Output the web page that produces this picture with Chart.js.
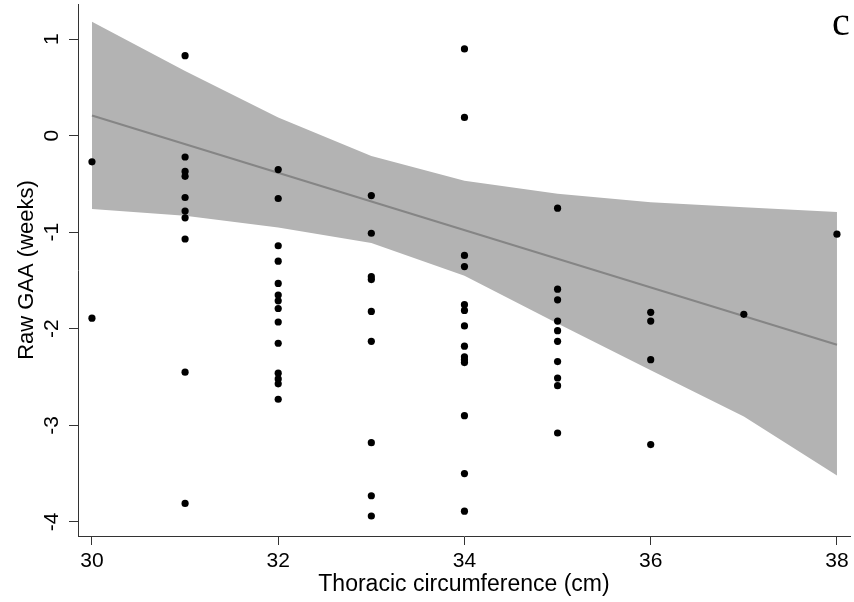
<!DOCTYPE html>
<html>
<head>
<meta charset="utf-8">
<script src="https://cdn.jsdelivr.net/npm/chart.js@4.4.1/dist/chart.umd.min.js"></script>
<style>
  html, body { margin: 0; padding: 0; background: #fff; }
  canvas { display: block; }
</style>
</head>
<body>
<canvas id="gaa-chart" width="854" height="602"></canvas>
<script>
// thoracic circumference (cm) and raw gestational age estimate error (weeks), one entry per foetus
const circumference = [
    30, 30,
    31, 31, 31, 31, 31, 31, 31, 31, 31, 31,
    32, 32, 32, 32, 32, 32, 32, 32, 32, 32, 32, 32, 32, 32,
    33, 33, 33, 33, 33, 33, 33, 33, 33,
    34, 34, 34, 34, 34, 34, 34, 34, 34, 34, 34, 34, 34, 34,
    35, 35, 35, 35, 35, 35, 35, 35, 35, 35,
    36, 36, 36, 36,
    37,
    38
];
const rawGaa = [
    -0.27, -1.89,
    0.83, -0.22, -0.37, -0.42, -0.64, -0.78, -0.85, -1.07, -2.45, -3.81,
    -0.35, -0.65, -1.14, -1.30, -1.53, -1.65, -1.71, -1.79, -1.93, -2.15, -2.46, -2.52, -2.57, -2.73,
    -0.62, -1.01, -1.46, -1.49, -1.82, -2.13, -3.18, -3.73, -3.94,
    0.90, 0.19, -1.24, -1.355, -1.75, -1.81, -1.97, -2.18, -2.29, -2.32, -2.35, -2.90, -3.50, -3.89,
    -0.75, -1.59, -1.70, -1.92, -2.02, -2.13, -2.34, -2.51, -2.59, -3.08,
    -1.83, -1.92, -2.32, -3.20,
    -1.85,
    -1.02
];

// fitted regression line and its confidence band
const fitX = [30, 38];
const fitY = [0.21, -2.165];
const bandX = [30, 31, 32, 33, 34, 35, 36, 37, 38];
const bandUpper = [1.18, 0.67, 0.19, -0.21, -0.465, -0.60, -0.69, -0.74, -0.79];
const bandLower = [-0.76, -0.83, -0.95, -1.11, -1.45, -1.945, -2.43, -2.91, -3.52];

const xTicks = [30, 32, 34, 36, 38];
const yTicks = [-4, -3, -2, -1, 0, 1];

const panelLetter = 'c';

function toPoints(xs, ys) {
    return xs.map((x, i) => ({x: x, y: ys[i]}));
}

const sansFont = '"Liberation Sans", Arial, sans-serif';

const panelLabel = {
    id: 'panel_label',
    afterDraw: (chart) => {
        const {ctx} = chart;
        ctx.save();
        ctx.font = '40px "Liberation Serif", "Times New Roman", serif';
        ctx.fillStyle = '#000';
        ctx.textAlign = 'center';
        ctx.textBaseline = 'alphabetic';
        ctx.fillText(panelLetter, 841, 35);
        ctx.restore();
    }
};

new Chart(document.getElementById('gaa-chart'), {
    type: 'scatter',
    data: {
        datasets: [
            {
                label: 'Observed',
                data: toPoints(circumference, rawGaa),
                backgroundColor: '#000',
                borderWidth: 0,
                pointRadius: 3.6,
            },
            {
                label: 'Fit',
                data: toPoints(fitX, fitY),
                showLine: true,
                borderColor: '#858585',
                borderWidth: 2,
                pointRadius: 0,
            },
            {
                label: 'Upper',
                data: toPoints(bandX, bandUpper),
                showLine: true,
                borderWidth: 0,
                borderColor: 'rgba(0,0,0,0)',
                backgroundColor: '#b3b3b3',
                pointRadius: 0,
                fill: '+1',
            },
            {
                label: 'Lower',
                data: toPoints(bandX, bandLower),
                showLine: true,
                borderWidth: 0,
                borderColor: 'rgba(0,0,0,0)',
                pointRadius: 0,
            }
        ]
    },
    options: {
        responsive: false,
        animation: false,
        layout: {padding: {top: 3, right: 4, left: 0, bottom: 0}},
        plugins: {
            legend: {display: false},
            tooltip: {enabled: false}
        },
        scales: {
            x: {
                type: 'linear',
                min: 29.85,
                max: 38.14,
                afterBuildTicks: (scale) => {
                    scale.ticks = xTicks.map(v => ({value: v}));
                },
                afterFit: (scale) => {
                    scale.height = 66;
                    scale.paddingLeft = 0;
                    scale.paddingRight = 0;
                },
                grid: {
                    display: true,
                    drawOnChartArea: false,
                    drawTicks: true,
                    tickLength: 9,
                    color: '#333',
                },
                border: {display: true, color: '#333', width: 1},
                ticks: {
                    color: '#000',
                    font: {family: sansFont, size: 21},
                    padding: 4,
                    maxRotation: 0,
                },
                title: {
                    display: true,
                    text: 'Thoracic circumference (cm)',
                    color: '#000',
                    font: {family: sansFont, size: 23},
                    padding: {top: 0, bottom: 4},
                }
            },
            y: {
                type: 'linear',
                min: -4.147,
                max: 1.365,
                afterBuildTicks: (scale) => {
                    scale.ticks = yTicks.map(v => ({value: v}));
                },
                afterFit: (scale) => {
                    // rotated labels would otherwise reserve space above and below the axis
                    scale.width = 78;
                    scale.paddingTop = 0;
                    scale.paddingBottom = 0;
                },
                grid: {
                    display: true,
                    drawOnChartArea: false,
                    drawTicks: true,
                    tickLength: 9,
                    color: '#333',
                },
                border: {display: true, color: '#333', width: 1},
                ticks: {
                    color: '#000',
                    font: {family: sansFont, size: 21},
                    padding: 7,
                    minRotation: 90,
                    maxRotation: 90,
                    crossAlign: 'center',
                },
                title: {
                    display: true,
                    text: 'Raw GAA (weeks)',
                    color: '#000',
                    font: {family: sansFont, size: 22},
                    padding: {top: 14, bottom: 0},
                }
            }
        }
    },
    plugins: [panelLabel]
});
</script>
</body>
</html>
